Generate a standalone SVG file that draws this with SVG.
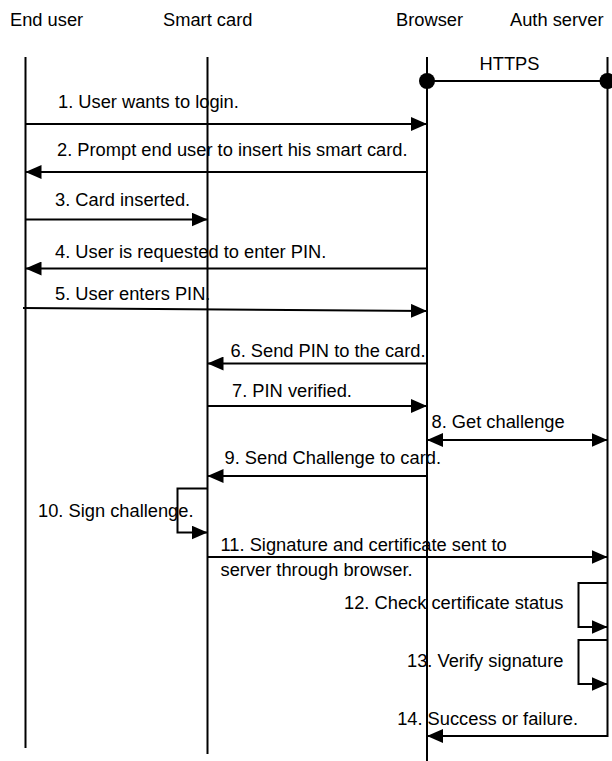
<svg xmlns="http://www.w3.org/2000/svg" width="612" height="761" viewBox="0 0 612 761">
<style>
text{font-family:"Liberation Sans",Arial,sans-serif;font-size:18.3px;fill:#000}
.life{stroke:#000;stroke-width:2;fill:none}
.msg{stroke:#000;stroke-width:2;fill:none;marker-end:url(#ah)}
.both{marker-start:url(#ah)}
.end{text-anchor:end}
</style>
<defs>
<marker id="ah" markerUnits="userSpaceOnUse" markerWidth="16" markerHeight="14" refX="16" refY="7" orient="auto-start-reverse" viewBox="0 0 16 14">
<path d="M0,0 L16,7 L0,14 z" fill="#000"/>
</marker>
</defs>
<g id="enduser">
<text x="10" y="26">End user</text>
<line class="life" x1="25.5" y1="57" x2="25.5" y2="748"/>
</g>
<g id="smartcard">
<text x="163" y="26">Smart card</text>
<line class="life" x1="207.5" y1="57" x2="207.5" y2="754"/>
</g>
<g id="browser">
<text x="396" y="26">Browser</text>
<line class="life" x1="427" y1="57" x2="427" y2="761"/>
</g>
<g id="authserver">
<text x="510" y="26">Auth server</text>
<line class="life" x1="607.5" y1="57" x2="607.5" y2="737"/>
</g>
<g id="connectors">
<line x1="427" y1="81" x2="607.5" y2="81" stroke="#000" stroke-width="2"/>
<circle cx="427" cy="81" r="8" fill="#000"/>
<circle cx="607.5" cy="81" r="8" fill="#000"/>
<text x="509.5" y="70" text-anchor="middle">HTTPS</text>

<line class="msg" x1="25.5" y1="124" x2="427" y2="124"/>
<text x="58" y="108">1. User wants to login.</text>

<line class="msg" x1="427" y1="172" x2="25.5" y2="172"/>
<text x="57" y="156">2. Prompt end user to insert his smart card.</text>

<line class="msg" x1="25.5" y1="219.5" x2="207.5" y2="219.5"/>
<text x="55" y="205.5">3. Card inserted.</text>

<line class="msg" x1="427" y1="268.5" x2="25.5" y2="268.5"/>
<text x="55" y="257.5">4. User is requested to enter PIN.</text>

<line class="msg" x1="23" y1="308" x2="427" y2="311"/>
<text x="55" y="300">5. User enters PIN.</text>

<line class="msg" x1="427" y1="363.5" x2="207.5" y2="363.5"/>
<text x="230.5" y="356.5">6. Send PIN to the card.</text>

<line class="msg" x1="207.5" y1="406" x2="427" y2="406"/>
<text x="232" y="396.5">7. PIN verified.</text>

<line class="msg both" x1="427" y1="440" x2="607.5" y2="440"/>
<text x="431.5" y="427.5">8. Get challenge</text>

<line class="msg" x1="427" y1="476" x2="207.5" y2="476"/>
<text x="224.5" y="463.5">9. Send Challenge to card.</text>

<polyline class="msg" points="207.5,488.5 177.5,488.5 177.5,532.5 207.5,532.5"/>
<text x="38" y="516.5">10. Sign challenge.</text>

<line class="msg" x1="207.5" y1="557" x2="607.5" y2="557"/>
<text x="220.5" y="550.5">11. Signature and certificate sent to</text>
<text x="220.5" y="575.5">server through browser.</text>

<polyline class="msg" points="607.5,583 578.5,583 578.5,627 607.5,627"/>
<text class="end" x="563.5" y="609">12. Check certificate status</text>

<polyline class="msg" points="607.5,640 578.5,640 578.5,684 607.5,684"/>
<text class="end" x="563.5" y="666.5">13. Verify signature</text>

<line class="msg" x1="607.5" y1="736" x2="427" y2="736"/>
<text class="end" x="578" y="725">14. Success or failure.</text>
</g>
</svg>
